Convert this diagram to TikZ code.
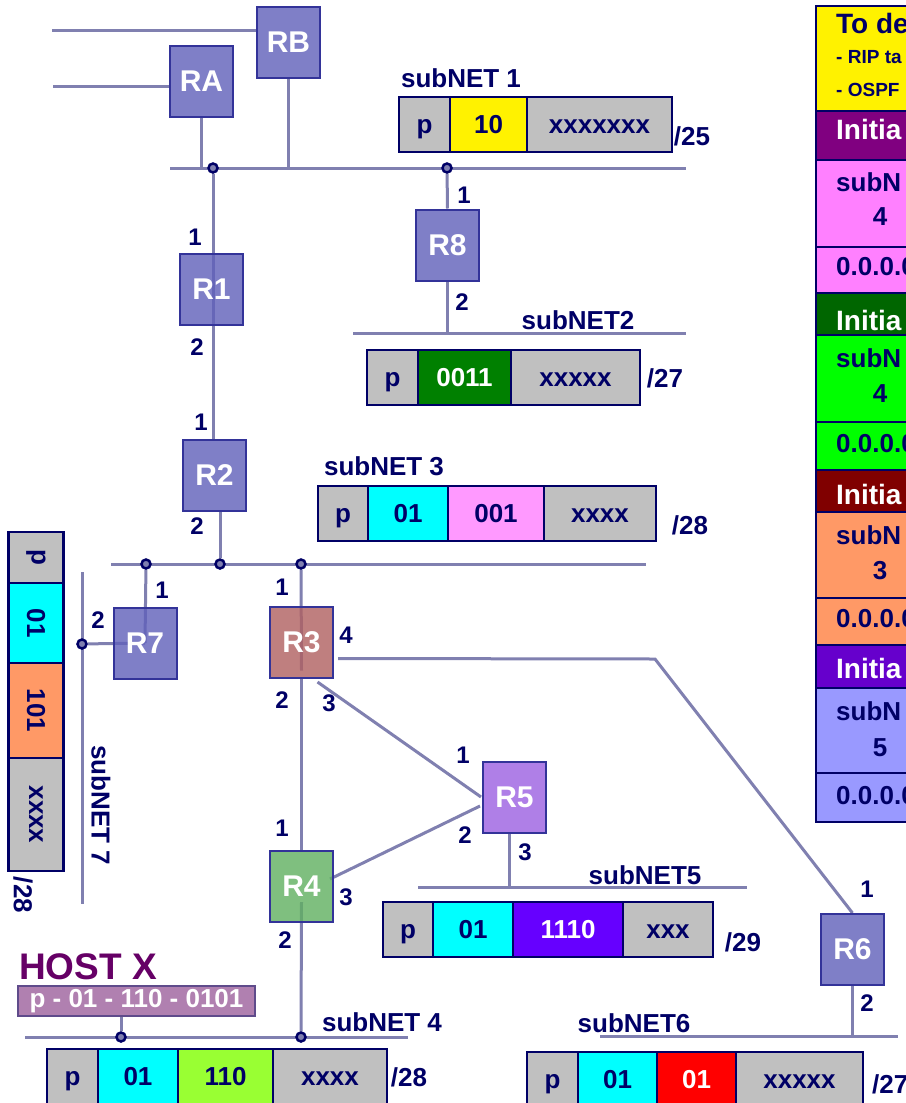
\documentclass[tikz,border=0pt]{standalone}
\usepackage{fontspec}
\setmainfont{Liberation Sans}
\usepackage{tikz}
\usetikzlibrary{positioning, calc, backgrounds}

\definecolor{navy}{HTML}{000066}
\definecolor{linec}{HTML}{8080B0}
\definecolor{rtrfill}{HTML}{6060BA}
\definecolor{rtredge}{HTML}{333399}
\definecolor{r3fill}{HTML}{B06060}
\definecolor{r4fill}{HTML}{60B060}
\definecolor{r5fill}{HTML}{9C60E2}
\definecolor{gcell}{HTML}{C0C0C0}
\definecolor{cyanc}{HTML}{00FFFF}
\definecolor{pinkc}{HTML}{FF99FF}
\definecolor{dgreenc}{HTML}{008000}
\definecolor{limec}{HTML}{99FF33}
\definecolor{violc}{HTML}{6600FF}
\definecolor{orangec}{HTML}{FF9966}
\definecolor{redc}{HTML}{FF0000}
\definecolor{hostc}{HTML}{660066}
\definecolor{hostfill}{HTML}{B080B0}
\definecolor{hostedge}{HTML}{5F4B8B}
\definecolor{tpurple}{HTML}{800080}
\definecolor{tpink}{HTML}{FF80FF}
\definecolor{tdgreen}{HTML}{006600}
\definecolor{tgreen}{HTML}{00FF00}
\definecolor{tdred}{HTML}{800000}
\definecolor{tviolet}{HTML}{6600CC}
\definecolor{tperi}{HTML}{9999FF}

\begin{document}
\begin{tikzpicture}[
    x=1pt, y=-1pt,
    rtr/.style={draw=rtredge, line width=2pt, fill=rtrfill, fill opacity=0.8, text opacity=1,
                minimum width=63, minimum height=71, inner sep=0pt, text=white,
                font=\bfseries\fontsize{30}{30}\selectfont},
    cellbase/.style={draw=navy, line width=2.5pt, fill=gcell, inner sep=0pt, outer sep=0pt,
                     text=navy, font=\bfseries\fontsize{26}{26}\selectfont},
    cell/.style={cellbase, minimum height=55, text height=18.6pt, text depth=0pt},
    vcell/.style={cellbase, minimum width=55},
    lbl/.style={text=navy, inner sep=0pt, font=\bfseries\fontsize{26}{26}\selectfont},
    port/.style={text=navy, inner sep=0pt, font=\bfseries\fontsize{24}{24}\selectfont},
    link/.style={draw=linec, line width=3pt},
    dot/.style={circle, draw=navy, fill=linec, line width=2.5pt, minimum size=9, inner sep=0pt},
    tband/.style={draw=navy, line width=2pt, minimum width=200, inner sep=0pt, outer sep=0pt},
    ttext/.style={anchor=west, inner sep=0pt, text=navy, font=\bfseries\fontsize{26}{26}\selectfont},
    thead/.style={ttext, text=white, font=\bfseries\fontsize{28}{28}\selectfont},
]
    \useasboundingbox (0,0) rectangle (905,1103);

    % Routers
    \node[rtr] (rb) at (288.5,42.5) {RB};
    \node[rtr] (ra) at (201.5,81.5) {RA};
    \node[rtr] (r1) at (211.5,289.5) {R1};
    \node[rtr] (r2) at (214.5,475.5) {R2};
    \node[rtr] (r8) at (447.5,245) {R8};
    \node[rtr] (r7) at (145,643) {R7};
    \node[rtr, fill=r3fill] (r3) at (301.5,642.5) {R3};
    \node[rtr, fill=r4fill] (r4) at (301.5,886) {R4};
    \node[rtr, fill=r5fill] (r5) at (514.5,797) {R5};
    \node[rtr] (r6) at (852.5,949.5) {R6};

    % Subnet lines
    \coordinate (n1w) at (170,168);  \coordinate (n1e) at (686,168);
    \coordinate (n2w) at (353,333);  \coordinate (n2e) at (686,333);
    \coordinate (n3w) at (111,564);  \coordinate (n3e) at (646,564);
    \coordinate (n4w) at (25,1037);  \coordinate (n4e) at (408,1037);
    \coordinate (n5w) at (418,887);  \coordinate (n5e) at (747,887);
    \coordinate (n6w) at (600,1036); \coordinate (n6e) at (898,1036);
    \coordinate (n7n) at (82,572);   \coordinate (n7s) at (82,904);
    \coordinate (la) at (53,86);     \coordinate (lb) at (52,30);
    \coordinate (t5) at (509,887);   \coordinate (k6) at (655,659);

    \node[dot] (d1) at (213,168) {};
    \node[dot] (d8) at (447,168) {};
    \node[dot] (d7) at (146,564) {};
    \node[dot] (d2) at (220,564) {};
    \node[dot] (d3) at (301,564) {};
    \node[dot] (dr7) at (82,644) {};
    \node[dot] (dh) at (121,1037) {};
    \node[dot] (d4) at (301,1037) {};

    % Host
    \node[text=hostc, inner sep=0pt, font=\bfseries\fontsize{37}{37}\selectfont] (hx) at (88,967) {HOST X};
    \node[draw=hostedge, fill=hostfill, line width=2pt, minimum width=237, minimum height=30,
          inner sep=0pt, text=white, font=\bfseries\fontsize{26}{26}\selectfont] (host) at (136.5,1001) {p - 01 - 110 - 0101};

    % Links
    \begin{scope}[on background layer]
        \fill[white] (0,0) rectangle (905,1103);
        \draw[link] (n1w) -- (n1e);
        \draw[link] (n2w) -- (n2e);
        \draw[link] (n3w) -- (n3e);
        \draw[link] (n4w) -- (n4e);
        \draw[link] (n5w) -- (n5e);
        \draw[link] (n6w) -- (n6e);
        \draw[link] (n7n) -- (n7s);
        \draw[link] (lb) -- (lb -| rb.west);
        \draw[link] (la) -- (la -| ra.west);
        \draw[link] (rb.south) -- (rb.south |- n1w);
        \draw[link] (ra.south) -- (ra.south |- n1w);
        \draw[link] (d1) -- (d1 |- r2.north);
        \draw[link] (d2) -- (d2 |- r2.south);
        \draw[link] (d8) -- (r8.north);
        \draw[link] (r8.south) -- (r8.south |- n2w);
        \draw[link] (d7) -- (r7.center);
        \draw[link] (dr7) -- (r7.center);
        \draw[link] (d3) -- ($(r3.center)+(0,28)$);
        \draw[link] (r3.south) -- (r4.north);
        \draw[link] ($(r4.center)+(0,16)$) -- (d4);
        \draw[link] ($(r3.south)+(16,3)$) -- ($(r5.west)+(-1,0)$);
        \draw[link] ($(r4.east)+(-4,-7)$) -- ($(r5.west)+(-2,9)$);
        \draw[link] ($(r3.east)+(4,16)$) -- (k6) -- (r6.north);
        \draw[link] (t5) -- (t5 |- r5.south);
        \draw[link] (r6.south) -- (r6.south |- n6w);
        \draw[link] (dh) -- (dh |- host.south);
    \end{scope}

    % Ports
    \node[port] (pr1a) at (195,237) {1};
    \node[port] (pr1b) at (197,347) {2};
    \node[port] (pr2a) at (201,422) {1};
    \node[port] (pr2b) at (197,526) {2};
    \node[port] (pr8a) at (464,195) {1};
    \node[port] (pr8b) at (462,302) {2};
    \node[port] (pr7a) at (162,590) {1};
    \node[port] (pr7b) at (98,620) {2};
    \node[port] (pr3a) at (282,587) {1};
    \node[port] (pr3d) at (346,635) {4};
    \node[port] (pr3b) at (282,700) {2};
    \node[port] (pr3c) at (329,703) {3};
    \node[port] (pr5a) at (463,755) {1};
    \node[port] (pr5b) at (465,835) {2};
    \node[port] (pr5c) at (525,852) {3};
    \node[port] (pr4a) at (282,828) {1};
    \node[port] (pr4c) at (346,897) {3};
    \node[port] (pr4b) at (285,940) {2};
    \node[port] (pr6a) at (867,889) {1};
    \node[port] (pr6b) at (867,1003) {2};

    % Subnet names and masks
    \node[lbl] (s1) at (461,78) {subNET 1};
    \node[lbl] (s2) at (578,320) {subNET2};
    \node[lbl] (s3) at (384,466) {subNET 3};
    \node[lbl] (s5) at (645,875) {subNET5};
    \node[lbl] (s6) at (634,1023) {subNET6};
    \node[lbl] (s4) at (382,1022) {subNET 4};
    \node[lbl, rotate=-90] (s7) at (101,805) {subNET 7};
    \node[lbl] (m1) at (692,136) {/25};
    \node[lbl] (m2) at (665,378) {/27};
    \node[lbl] (m3) at (690,525) {/28};
    \node[lbl] (m5) at (743,942) {/29};
    \node[lbl, anchor=west] (m6) at (872,1084) {/27};
    \node[lbl] (m4) at (409,1077) {/28};
    \node[lbl, rotate=-90] (m7) at (23,895) {/28};

    % Addresses
    \node[cell, anchor=north west, minimum width=51] (a1p) at (399,97) {p};
    \node[cell, fill=yellow, minimum width=77, right=0pt of a1p] (a1n) {10};
    \node[cell, minimum width=145, right=0pt of a1n] (a1h) {xxxxxxx};

    \node[cell, anchor=north west, minimum width=51] (a2p) at (367,350) {p};
    \node[cell, fill=dgreenc, text=white, minimum width=93, right=0pt of a2p] (a2n) {0011};
    \node[cell, minimum width=129, right=0pt of a2n] (a2h) {xxxxx};

    \node[cell, anchor=north west, minimum width=50] (a3p) at (318,486) {p};
    \node[cell, fill=cyanc, minimum width=80, right=0pt of a3p] (a3a) {01};
    \node[cell, fill=pinkc, minimum width=96, right=0pt of a3a] (a3n) {001};
    \node[cell, minimum width=112, right=0pt of a3n] (a3h) {xxxx};

    \node[cell, anchor=north west, minimum width=50] (a5p) at (383,902) {p};
    \node[cell, fill=cyanc, minimum width=80, right=0pt of a5p] (a5a) {01};
    \node[cell, fill=violc, text=white, minimum width=110, right=0pt of a5a] (a5n) {1110};
    \node[cell, minimum width=90, right=0pt of a5n] (a5h) {xxx};

    \node[cell, anchor=north west, minimum width=51] (a6p) at (527,1052) {p};
    \node[cell, fill=cyanc, minimum width=79, right=0pt of a6p] (a6a) {01};
    \node[cell, fill=redc, text=white, minimum width=79, right=0pt of a6a] (a6n) {01};
    \node[cell, minimum width=127, right=0pt of a6n] (a6h) {xxxxx};

    \node[cell, anchor=north west, minimum width=51] (a4p) at (47,1049) {p};
    \node[cell, fill=cyanc, minimum width=80, right=0pt of a4p] (a4a) {01};
    \node[cell, fill=limec, minimum width=95, right=0pt of a4a] (a4n) {110};
    \node[cell, minimum width=114, right=0pt of a4n] (a4h) {xxxx};

    \node[vcell, anchor=north west, minimum height=51] (a7p) at (8.5,532) {\rotatebox{-90}{p}};
    \node[vcell, fill=cyanc, minimum height=80, below=0pt of a7p] (a7a) {\rotatebox{-90}{01}};
    \node[vcell, fill=orangec, minimum height=95, below=0pt of a7a] (a7n) {\rotatebox{-90}{101}};
    \node[vcell, minimum height=113, below=0pt of a7n] (a7h) {\rotatebox{-90}{xxxx}};

    % Routing tables (cut at the right edge)
    \node[tband, anchor=north west, fill=yellow, minimum height=105] (tb0) at (816,6) {};
    \node[tband, fill=tpurple, minimum height=49, below=0pt of tb0] (tb1) {};
    \node[tband, fill=tpink, minimum height=87, below=0pt of tb1] (tb2) {};
    \node[tband, fill=tpink, minimum height=46, below=0pt of tb2] (tb3) {};
    \node[tband, fill=tdgreen, minimum height=42, below=0pt of tb3] (tb4) {};
    \node[tband, fill=tgreen, minimum height=87, below=0pt of tb4] (tb5) {};
    \node[tband, fill=tgreen, minimum height=48, below=0pt of tb5] (tb6) {};
    \node[tband, fill=tdred, minimum height=42, below=0pt of tb6] (tb7) {};
    \node[tband, fill=orangec, minimum height=86, below=0pt of tb7] (tb8) {};
    \node[tband, fill=orangec, minimum height=47, below=0pt of tb8] (tb9) {};
    \node[tband, fill=tviolet, minimum height=43, below=0pt of tb9] (tb10) {};
    \node[tband, fill=tperi, minimum height=85, below=0pt of tb10] (tb11) {};
    \node[tband, fill=tperi, minimum height=49, below=0pt of tb11] (tb12) {};

    \node[ttext, font=\bfseries\fontsize{28}{28}\selectfont] (tt0) at (836,23) {To de};
    \node[ttext, font=\bfseries\fontsize{19}{19}\selectfont] (tt1) at (836,57) {- RIP ta};
    \node[ttext, font=\bfseries\fontsize{19}{19}\selectfont] (tt2) at (836,90) {- OSPF};
    \node[thead] (th1) at (836,129) {Initia};
    \node[ttext] (tn1) at (836,182) {subN};
    \node[ttext, anchor=center] (tk1) at (880,217) {4};
    \node[ttext] (tz1) at (836,267) {0.0.0.0};
    \node[thead] (th2) at (836,320) {Initia};
    \node[ttext] (tn2) at (836,358) {subN};
    \node[ttext, anchor=center] (tk2) at (880,394) {4};
    \node[ttext] (tz2) at (836,444) {0.0.0.0};
    \node[thead] (th3) at (836,494) {Initia};
    \node[ttext] (tn3) at (836,535) {subN};
    \node[ttext, anchor=center] (tk3) at (880,571) {3};
    \node[ttext] (tz3) at (836,619) {0.0.0.0};
    \node[thead] (th4) at (836,668) {Initia};
    \node[ttext] (tn4) at (836,711) {subN};
    \node[ttext, anchor=center] (tk4) at (880,748) {5};
    \node[ttext] (tz4) at (836,796) {0.0.0.0};
\end{tikzpicture}
\end{document}
